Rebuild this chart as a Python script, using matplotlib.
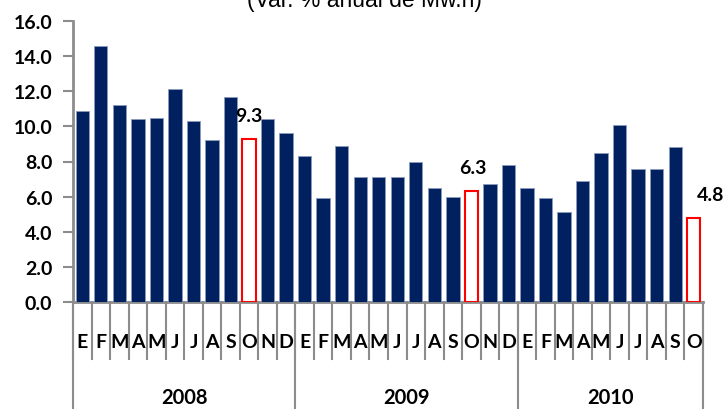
import matplotlib
matplotlib.use("Agg")
import matplotlib.pyplot as plt
import matplotlib.transforms as mtransforms

title = "(Var. % anual de Mw.h)"
years = ["2008", "2009", "2010"]
months_2008 = ["E", "F", "M", "A", "M", "J", "J", "A", "S", "O", "N", "D"]
months_2009 = ["E", "F", "M", "A", "M", "J", "J", "A", "S", "O", "N", "D"]
months_2010 = ["E", "F", "M", "A", "M", "J", "J", "A", "S", "O"]
values_2008 = [10.9, 14.6, 11.2, 10.4, 10.5, 12.1, 10.3, 9.2, 11.7, 9.3, 10.4, 9.6]
values_2009 = [8.3, 5.9, 8.9, 7.1, 7.1, 7.1, 8.0, 6.5, 6.0, 6.3, 6.7, 7.8]
values_2010 = [6.5, 5.9, 5.1, 6.9, 8.5, 10.1, 7.6, 7.6, 8.8, 4.8]
highlight = [(0, 9), (1, 9), (2, 9)]  # (year index, month index) of October bars
labels_highlight = ["9.3", "6.3", "4.8"]
label_dx = [0, 1, 12]
yticks = [0, 2, 4, 6, 8, 10, 12, 14, 16]

FONT = "Lato"
navy = "#002060"
gray = "#8c8c8c"

fig = plt.figure(figsize=(7.24, 4.10), dpi=100)
ax = fig.add_axes([73/724, 1-303/410, (703-73)/724, (303-22)/410])

groups = [(months_2008, values_2008), (months_2009, values_2009), (months_2010, values_2010)]
x = 0
starts = []
for gi, (months, vals) in enumerate(groups):
    starts.append(x)
    for mi, v in enumerate(vals):
        if (gi, mi) in highlight:
            k = highlight.index((gi, mi))
            ax.bar(x, v, width=0.72, color="white", edgecolor="#ff0000", linewidth=1.5, zorder=3)
            ax.annotate(labels_highlight[k], (x, v), xytext=(label_dx[k], 17),
                        textcoords="offset points", ha="center", va="center",
                        fontsize=14, fontweight="bold", family=FONT, annotation_clip=False)
        else:
            ax.bar(x, v, width=0.72, color=navy, edgecolor="#8a9bbd", linewidth=0.6, zorder=3)
        x += 1
n = x
starts.append(n)

ax.set_xlim(-0.5, n - 0.5)
ax.set_ylim(0, 16)
ax.set_yticks(yticks)
ax.set_yticklabels([f"{t:.1f}" for t in yticks], fontsize=14, fontweight="bold", family=FONT)
ax.tick_params(axis="y", length=7, width=1.5, color=gray, pad=8)
ax.set_xticks([])
for s in ["top", "right"]:
    ax.spines[s].set_visible(False)
for s in ["left", "bottom"]:
    ax.spines[s].set_color(gray)
    ax.spines[s].set_linewidth(2)

trans = mtransforms.blended_transform_factory(ax.transData, ax.transAxes)
# month boundary ticks
for i in range(n + 1):
    xb = i - 0.5
    ax.plot([xb, xb], [0, -0.203], transform=trans, color=gray, lw=1.5, clip_on=False)
# year boundaries
for s in starts:
    ax.plot([s - 0.5, s - 0.5], [0, -0.40], transform=trans, color=gray, lw=1.5, clip_on=False)

xi = 0
for gi, (months, vals) in enumerate(groups):
    for m in months:
        ax.text(xi, -0.139, m, transform=trans, ha="center", va="center",
                fontsize=14, fontweight="bold", family=FONT)
        xi += 1
    mid = (starts[gi] + starts[gi + 1] - 1) / 2
    ax.text(mid, -0.338, years[gi], transform=trans, ha="center", va="center",
            fontsize=14.5, fontweight="bold", family=FONT)

fig.text(364/724, 1 - 7/410, title, ha="center", va="baseline", fontsize=16.5,
         family="Liberation Sans")

fig.savefig("out.png", dpi=100)
